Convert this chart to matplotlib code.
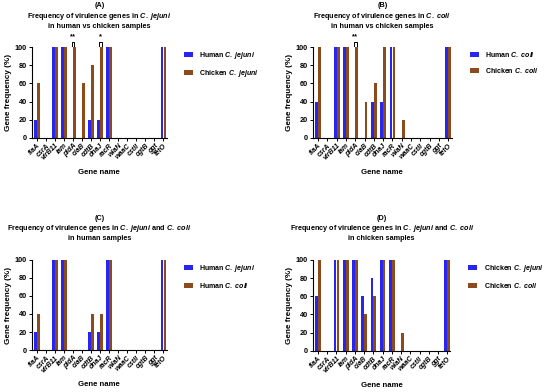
import matplotlib
matplotlib.use('Agg')
import matplotlib.pyplot as plt
import numpy as np

plt.rcParams['font.family'] = ['Liberation Sans', 'DejaVu Sans']
plt.rcParams['font.weight'] = 'bold'
plt.rcParams['mathtext.fontset'] = 'custom'
plt.rcParams['mathtext.it'] = 'Liberation Sans:italic:bold'
plt.rcParams['mathtext.rm'] = 'Liberation Sans:bold'
plt.rcParams['mathtext.bf'] = 'Liberation Sans:bold'

genes = ['flaA', 'csrA', 'virB11', 'iam', 'pldA', 'ciaB', 'cdtB', 'dnaJ',
         'racR', 'wlaN', 'waaC', 'cstII', 'cgtB', 'ggt', 'tetO']

human_jejuni = [20, 0, 100, 100, 0, 0, 20, 20, 100, 0, 0, 0, 0, 0, 100]
chicken_jejuni = [60, 0, 100, 100, 100, 60, 80, 100, 100, 0, 0, 0, 0, 0, 100]
human_coli = [40, 0, 100, 100, 0, 0, 40, 40, 100, 0, 0, 0, 0, 0, 100]
chicken_coli = [100, 0, 100, 100, 100, 40, 60, 100, 100, 20, 0, 0, 0, 0, 100]

BLUE = '#2626f0'
BROWN = '#8b4b1d'

JEJ = r'$C.$ $jejuni$'
COL = r'$C.$ $coli$'

panels = [
    ('(A)', 'Frequency of virulence genes in ' + JEJ,
     'in human vs chicken samples',
     human_jejuni, chicken_jejuni, 'Human ' + JEJ, 'Chicken ' + JEJ,
     [(4, '**'), (7, '*')], [0.058, 0.648, 0.245, 0.232]),
    ('(B)', 'Frequency of virulence genes in ' + COL,
     'in human vs chicken samples',
     human_coli, chicken_coli, 'Human ' + COL, 'Chicken ' + COL,
     [(4, '**')], [0.569, 0.648, 0.252, 0.232]),
    ('(C)', 'Frequency of virulence genes in ' + JEJ + ' and ' + COL,
     'in human samples',
     human_jejuni, human_coli, 'Human ' + JEJ, 'Human ' + COL,
     [], [0.058, 0.107, 0.245, 0.230]),
    ('(D)', 'Frequency of virulence genes in ' + JEJ + ' and ' + COL,
     'in chicken samples',
     chicken_jejuni, chicken_coli, 'Chicken ' + JEJ, 'Chicken ' + COL,
     [], [0.569, 0.105, 0.250, 0.232]),
]

fig = plt.figure(figsize=(5.5, 3.92), dpi=100)
x = np.arange(len(genes))
w = 0.3
off = 0.16

for tag, t1, t2, s1, s2, l1, l2, sig, pos in panels:
    ax = fig.add_axes(pos)
    ax.bar(x - off, s1, w, color=BLUE, linewidth=0, label=l1)
    ax.bar(x + off, s2, w, color=BROWN, linewidth=0, label=l2)
    ax.set_xlim(-0.55, 14.35)
    ax.set_ylim(0, 100)
    ax.set_yticks([0, 20, 40, 60, 80, 100])
    ax.set_xticks(x)
    ax.set_xticklabels(genes, rotation=45, ha='right', rotation_mode='anchor',
                       fontsize=5.0, fontstyle='italic', fontweight='bold')
    ax.tick_params(axis='y', labelsize=5.3, width=0.7, length=2.5, pad=1)
    ax.tick_params(axis='x', width=0.7, length=2, pad=1)
    for s in ['top', 'right']:
        ax.spines[s].set_visible(False)
    for s in ['left', 'bottom']:
        ax.spines[s].set_linewidth(0.8)
    ax.set_xlabel('Gene name', fontsize=5.6, fontweight='bold', labelpad=5)
    ax.set_ylabel('Gene frequency (%)', fontsize=5.9, fontweight='bold', labelpad=2)
    ax.set_title(tag + '\n' + t1 + '\n' + t2, fontsize=5.2, fontweight='bold',
                 linespacing=1.2, pad=14)
    for gi, stars in sig:
        xs = [gi - off, gi - off, gi + off, gi + off]
        ys = [101, 106, 106, 101]
        ax.plot(xs, ys, color='black', lw=0.7, clip_on=False)
        ax.text(gi, 107, stars, ha='center', va='bottom', fontsize=5.5,
                fontweight='bold', clip_on=False)
    ax.legend(loc='upper left', bbox_to_anchor=(1.13, 0.965), frameon=False,
              borderpad=0, borderaxespad=0,
              fontsize=5.0, handlelength=1.3, handleheight=0.7,
              handletextpad=0.9, labelspacing=0.95)

fig.savefig('out.png', dpi=100)
